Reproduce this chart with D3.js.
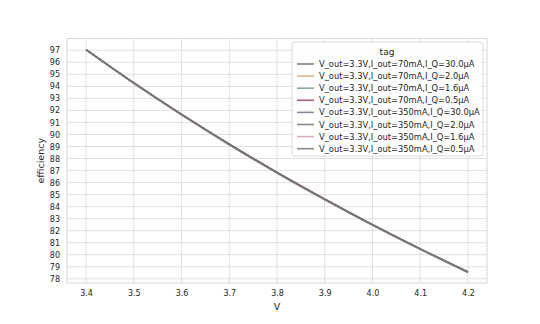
<!DOCTYPE html>
<html>
<head>
<meta charset="utf-8">
<script src="https://cdn.jsdelivr.net/npm/d3@7"></script>
<style>
  body { margin: 0; background: #fff; }
  text { font-family: "DejaVu Sans", sans-serif; fill: #262626; }
</style>
</head>
<body>
<svg id="chart" width="540" height="324"></svg>
<script>
var voltages = [3.4, 3.5, 3.6, 3.7, 3.8, 3.9, 4.0, 4.1, 4.2];

var tags = ["V_out=3.3V,I_out=70mA,I_Q=30.0µA",
            "V_out=3.3V,I_out=70mA,I_Q=2.0µA",
            "V_out=3.3V,I_out=70mA,I_Q=1.6µA",
            "V_out=3.3V,I_out=70mA,I_Q=0.5µA",
            "V_out=3.3V,I_out=350mA,I_Q=30.0µA",
            "V_out=3.3V,I_out=350mA,I_Q=2.0µA",
            "V_out=3.3V,I_out=350mA,I_Q=1.6µA",
            "V_out=3.3V,I_out=350mA,I_Q=0.5µA"];

// all eight curves sit on top of each other in the picture
var eff_70_30 = [97.03, 94.25, 91.63, 89.15, 86.80, 84.58, 82.46, 80.45, 78.53];
var eff_70_20 = [97.06, 94.28, 91.66, 89.19, 86.84, 84.61, 82.50, 80.49, 78.57];
var eff_70_16 = [97.06, 94.28, 91.66, 89.19, 86.84, 84.61, 82.50, 80.49, 78.57];
var eff_70_05 = [97.06, 94.29, 91.67, 89.19, 86.84, 84.62, 82.50, 80.49, 78.57];
var eff_350_30 = [97.05, 94.28, 91.66, 89.18, 86.83, 84.61, 82.49, 80.48, 78.56];
var eff_350_20 = [97.06, 94.29, 91.67, 89.19, 86.84, 84.62, 82.50, 80.49, 78.57];
var eff_350_16 = [97.06, 94.29, 91.67, 89.19, 86.84, 84.62, 82.50, 80.49, 78.57];
var eff_350_05 = [97.06, 94.29, 91.67, 89.19, 86.84, 84.62, 82.50, 80.49, 78.57];

var seriesValues = [eff_70_30, eff_70_20, eff_70_16, eff_70_05,
                    eff_350_30, eff_350_20, eff_350_16, eff_350_05];

var xTicks = [3.4, 3.5, 3.6, 3.7, 3.8, 3.9, 4.0, 4.1, 4.2];
var yTicks = d3.range(78, 98);

const colors = ["#7d808a", "#e2b68e", "#8ea99c", "#ab6070",
                "#8a8896", "#8f8a84", "#ddabc4", "#8a8a8a"];

function drawChart() {
    var svg = d3.select("#chart"),
        margin = {top: 38.5, left: 67, right: 53, bottom: 41},
        width = 540 - margin.left - margin.right,
        height = 324 - margin.top - margin.bottom;

    var xScale = d3.scaleLinear().domain([3.36, 4.24]).range([0, width]),
        yScale = d3.scaleLinear().domain([77.65, 97.98]).range([height, 0]);

    var g = svg.append("g")
        .attr("transform", "translate(" + margin.left + "," + margin.top + ")");

    // grid
    g.append("g")
        .selectAll("line.vgrid")
        .data(xTicks)
        .enter().append("line")
        .attr("x1", function(d) { return xScale(d); })
        .attr("x2", function(d) { return xScale(d); })
        .attr("y1", 0).attr("y2", height)
        .attr("stroke", "#dcdcdc").attr("stroke-width", 0.9);

    g.append("g")
        .selectAll("line.hgrid")
        .data(yTicks)
        .enter().append("line")
        .attr("y1", function(d) { return yScale(d); })
        .attr("y2", function(d) { return yScale(d); })
        .attr("x1", 0).attr("x2", width)
        .attr("stroke", "#dcdcdc").attr("stroke-width", 0.9);

    g.append("rect")
        .attr("width", width).attr("height", height)
        .attr("fill", "none").attr("stroke", "#d6d6d6").attr("stroke-width", 1);

    // axes
    var xAxis = g.append("g")
        .attr("transform", "translate(0," + height + ")")
        .call(d3.axisBottom(xScale).tickValues(xTicks).tickFormat(d3.format(".1f")).tickSize(0).tickPadding(7));
    var yAxis = g.append("g")
        .call(d3.axisLeft(yScale).tickValues(yTicks).tickFormat(d3.format("d")).tickSize(0).tickPadding(7));
    [xAxis, yAxis].forEach(function(a) {
        a.select(".domain").remove();
        a.selectAll("text").attr("font-size", 8).attr("fill", "#333");
    });

    g.append("text")
        .attr("x", width / 2).attr("y", height + 27)
        .attr("text-anchor", "middle").attr("font-size", 9.5)
        .text("V");

    g.append("text")
        .attr("transform", "translate(-23," + (height / 2) + ") rotate(-90)")
        .attr("text-anchor", "middle").attr("font-size", 9.5)
        .text("efficiency");

    // lines
    var line = d3.line()
        .x(function(d, i) { return xScale(voltages[i]); })
        .y(function(d) { return yScale(d); })
        .curve(d3.curveMonotoneX);

    g.selectAll(".eff-line")
        .data(seriesValues)
        .enter().append("path")
        .attr("class", "eff-line")
        .attr("d", line)
        .attr("fill", "none")
        .attr("stroke", function(d, i) { return i === 7 ? "#707070" : colors[i]; })
        .attr("stroke-width", 1.6);

    // legend
    var lg = svg.append("g").attr("transform", "translate(292,42)");
    lg.append("rect")
        .attr("width", 191).attr("height", 114)
        .attr("rx", 3).attr("ry", 3)
        .attr("fill", "#fff").attr("fill-opacity", 0.85)
        .attr("stroke", "#d6d6d6").attr("stroke-width", 0.9);
    lg.append("text")
        .attr("x", 95).attr("y", 13)
        .attr("text-anchor", "middle").attr("font-size", 9)
        .text("tag");

    var rows = lg.selectAll(".leg-row")
        .data(tags)
        .enter().append("g")
        .attr("class", "leg-row")
        .attr("transform", function(d, i) { return "translate(0," + (22 + i * 12.1) + ")"; });
    rows.append("line")
        .attr("x1", 5).attr("x2", 22)
        .attr("stroke", function(d, i) { return colors[i]; })
        .attr("stroke-width", 1.6);
    rows.append("text")
        .attr("x", 27).attr("y", 3)
        .attr("font-size", 8.3)
        .text(function(d) { return d; });
}

drawChart();
</script>
</body>
</html>
